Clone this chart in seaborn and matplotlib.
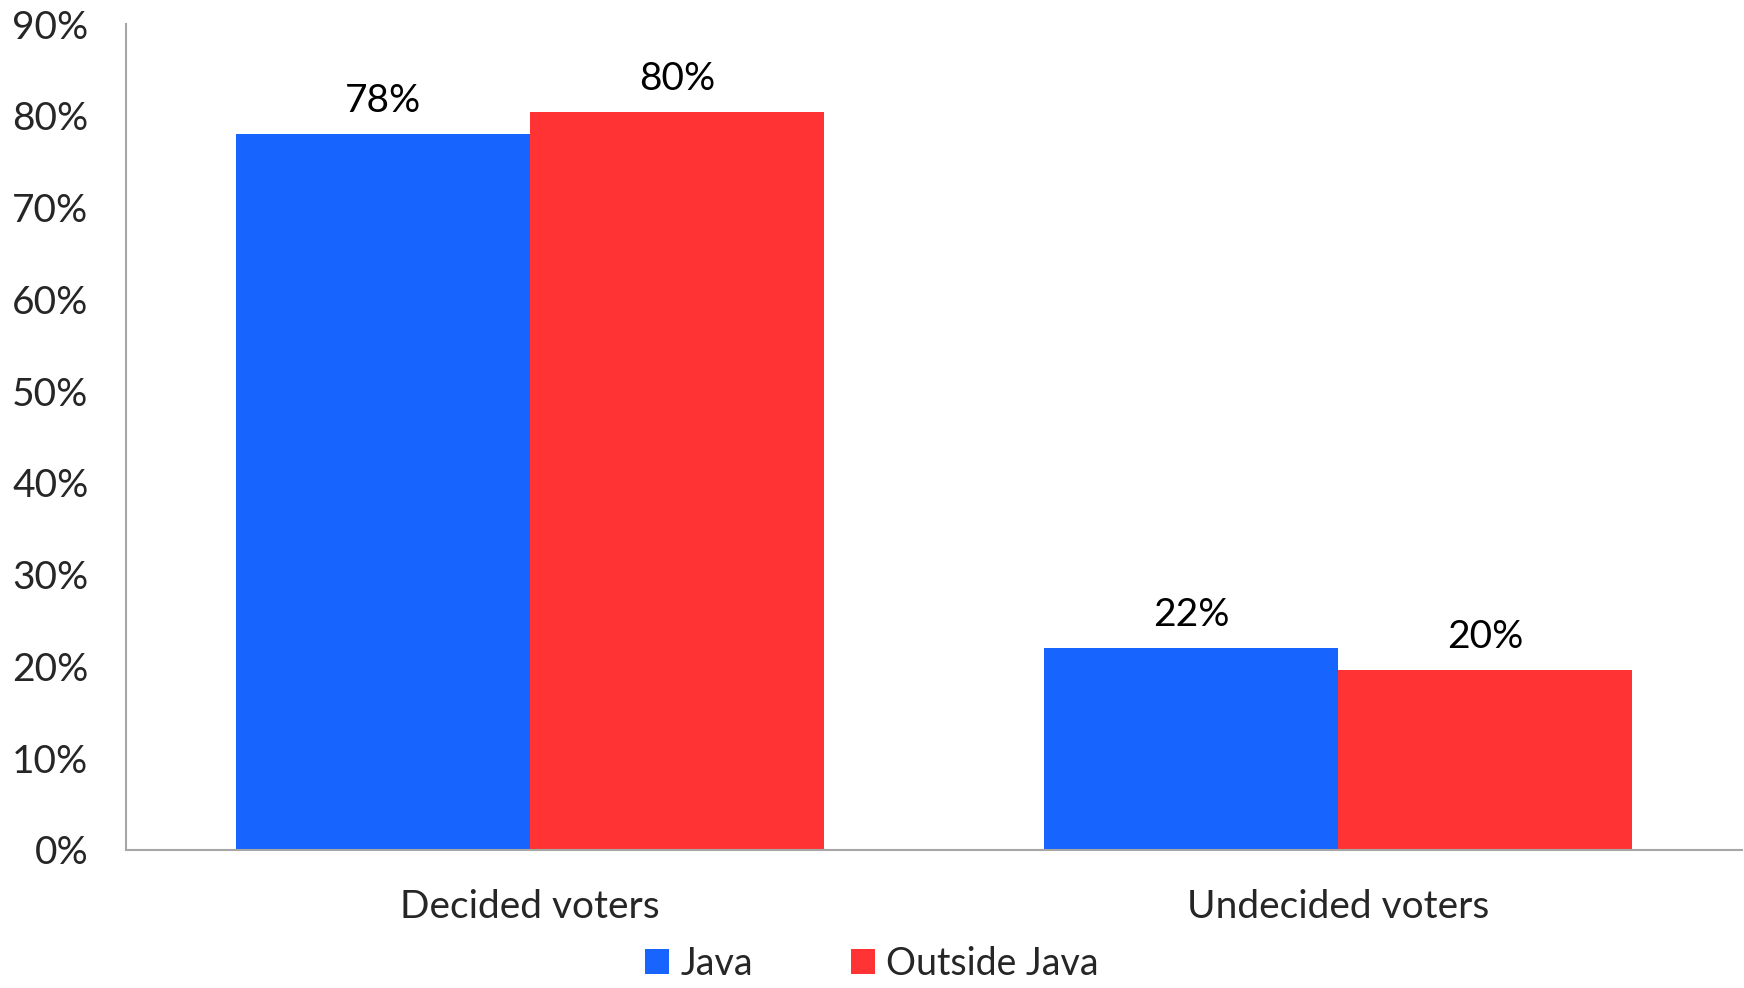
import matplotlib
matplotlib.use("Agg")
import matplotlib.pyplot as plt
import pandas as pd
import seaborn as sns
from matplotlib.ticker import FuncFormatter

categories = ["Decided voters", "Undecided voters"]
series_names = ["Java", "Outside Java"]
java = [78.0, 22.0]
outside_java = [80.4, 19.6]
colors = ["#1764FF", "#FF3333"]

df = pd.DataFrame({
    "category": categories * 2,
    "region": [series_names[0]] * len(categories) + [series_names[1]] * len(categories),
    "value": java + outside_java,
})

sns.set_theme(style="white")
plt.rcParams["font.family"] = ["Lato", "DejaVu Sans"]

fig = plt.figure(figsize=(17.44, 9.88), dpi=100)
ax = fig.add_axes([0.0722, 0.1397, 0.9267, 0.836])

sns.barplot(
    data=df, x="category", y="value", hue="region",
    palette=colors, saturation=1, width=0.727, gap=0,
    edgecolor="none", linewidth=0, errorbar=None, ax=ax,
)

for cont in ax.containers:
    ax.bar_label(cont, fmt="%.0f%%", padding=11, fontsize=28, color="black")

ax.set_ylim(0, 90)
ax.set_xlim(-0.5, 1.5)
ax.set_yticks(range(0, 91, 10))
ax.yaxis.set_major_formatter(FuncFormatter(lambda v, _: f"{v:.0f}%"))
ax.tick_params(axis="y", labelsize=28, length=0, pad=27)
ax.tick_params(axis="x", labelsize=28, length=0, pad=28)
ax.set_xlabel("")
ax.set_ylabel("")
for side in ["top", "right"]:
    ax.spines[side].set_visible(False)
for side in ["left", "bottom"]:
    ax.spines[side].set_color("#a6a6a6")
    ax.spines[side].set_linewidth(1.5)

handles, labels = ax.get_legend_handles_labels()
ax.get_legend().remove()
fig.legend(
    handles, labels, loc="lower center", bbox_to_anchor=(0.5, -0.028),
    ncol=2, frameon=False, fontsize=27, handlelength=0.65, handleheight=0.65,
    handletextpad=0.3, columnspacing=2.6,
)

fig.savefig("out.png", dpi=100)
plt.close(fig)
